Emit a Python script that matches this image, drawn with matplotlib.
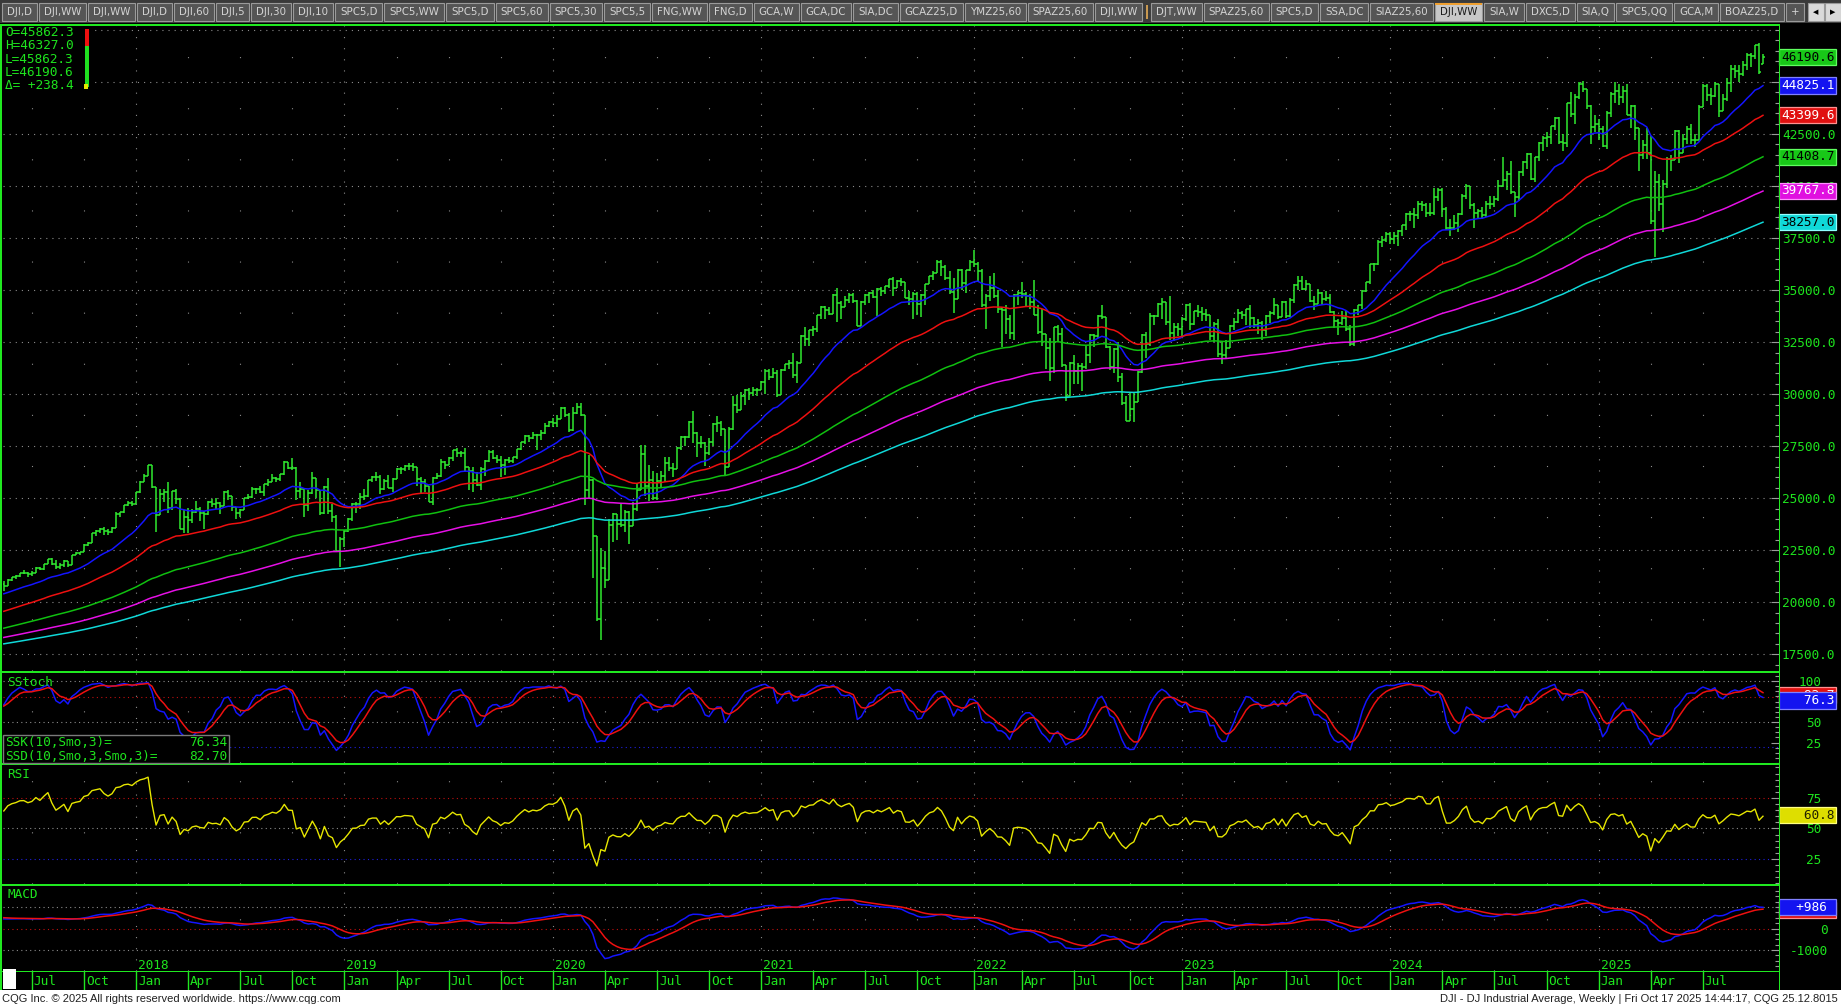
import numpy as np
import pandas as pd
import matplotlib
matplotlib.use("Agg")
import matplotlib.pyplot as plt
from matplotlib.patches import Rectangle
from matplotlib.ticker import FuncFormatter, MultipleLocator

# DJI weekly bars, week ending 19 May 2017 .. 17 Oct 2025
first_week = "2017-05-19"

# closes of the weeks before the first drawn bar, only used to warm up the averages
warmup_closes = [
    16452, 16065, 16302, 16323, 16412, 16027, 16409, 16361, 16513, 16583, 16491, 16606, 16717, 16924, 16776,
    16947, 16851, 17068, 16944, 17100, 16961, 16493, 16554, 16663, 17001, 17098, 17138, 16988, 17280, 17114,
    17009, 16544, 16380, 16805, 17391, 17573, 17635, 17810, 17828, 17958, 17280, 17805, 18053,
    17833, 17737, 17512, 17673, 17165, 17825, 18019, 18140, 18133, 17857, 17749, 18128, 17713, 17763, 18058,
    17826, 18080, 18024, 18191, 18272, 18232, 18011, 17849, 17899, 18015, 17947, 17730, 17760, 18086, 17568,
    17690, 17373, 17477, 16460, 16643, 16102, 16433, 16385, 16315, 16472, 17084, 17216, 17647, 17664, 17910,
    17245, 17824, 17798, 17848, 17265, 17128, 17553, 17425,
    16346, 15988, 16094, 16466, 16205, 15974, 16392, 16640, 17006, 17213, 17602, 17516, 17793, 17577, 17897,
    18004, 17774, 17740, 17535, 17501, 17873, 17807, 17865, 17675, 17400, 17949, 18147, 18516, 18571, 18432,
    18543, 18577, 18553, 18395, 18492, 18085, 18124, 18262, 18308, 18240, 18138, 18146, 18161, 17888, 18848,
    18868, 19152, 19171, 19757, 19843, 19934, 19763,
    19964, 19886, 19827, 20094, 20071, 20269, 20624, 20822, 21005, 20903, 20915, 20597, 20663, 20656, 20453,
    20548, 20941, 21007, 20897,
]

closes = [
    # 2017
    20804, 21080, 21206, 21272, 21384, 21395, 21350, 21414, 21638, 21580, 21830, 22092, 21858, 21675, 21814,
    21988, 21798, 22268, 22350, 22405, 22773, 22871, 23329, 23434, 23539, 23422, 23358, 23558, 24232, 24329,
    24651, 24754, 24719,
    # 2018
    25296, 25803, 26072, 26616, 25521, 24191, 25219, 25310, 24538, 25336, 24946, 23533, 24103, 23933, 24360,
    24463, 24311, 24263, 24831, 24715, 24753, 24635, 25317, 25090, 24581, 24271, 24456, 25019, 25058, 25451,
    25463, 25313, 25669, 25790, 25965, 25917, 26155, 26744, 26458, 26447, 25340, 25444, 24688, 25271, 25989,
    25413, 24286, 25538, 24389, 24101, 22445, 23062,
    # 2019
    23433, 23996, 24706, 24737, 25064, 25106, 25883, 26031, 26026, 25450, 25849, 25502, 25929, 26425, 26412,
    26559, 26543, 26505, 25942, 25764, 25586, 24815, 25984, 26090, 26719, 26600, 26922, 27332, 27154, 27192,
    26485, 26287, 25886, 25629, 26403, 26797, 27220, 26935, 26820, 26573, 26817, 26770, 26958, 27347, 27681,
    28005, 27876, 28051, 28015, 28135, 28455, 28645,
    # 2020
    28634, 28823, 29348, 28990, 28256, 29102, 29398, 28992, 25409, 25864, 23185, 19174, 21637, 21053, 23719,
    24242, 23775, 23724, 24331, 23685, 24465, 25383, 27111, 25606, 25871, 25016, 25827, 26075, 26672, 26470,
    26428, 27433, 27931, 27930, 28654, 28133, 27666, 27657, 27174, 27683, 28587, 28606, 28336, 26502, 28323,
    29480, 29263, 29910, 30218, 30046, 30179, 30200, 30606,
    # 2021
    31098, 30814, 30997, 29983, 31148, 31458, 31494, 30932, 31496, 32779, 32628, 33073, 33153, 33801, 34200,
    34043, 33875, 34778, 34382, 34208, 34529, 34756, 34480, 33290, 34433, 34786, 34870, 34687, 35061, 34935,
    35208, 35515, 35120, 35455, 35369, 34607, 34584, 34798, 34326, 34746, 35295, 35677, 35820, 36328, 36100,
    35602, 34899, 34580, 35971, 35365, 35950, 36338,
    # 2022
    36231, 35912, 34265, 34725, 35089, 34738, 34079, 34059, 33614, 32944, 34754, 34861, 34818, 34721, 34451,
    33811, 32977, 32899, 32197, 31262, 33213, 32900, 31393, 29889, 31501, 31097, 31338, 31289, 31899, 32845,
    32803, 33761, 33707, 32283, 31318, 32152, 30822, 29590, 28726, 29297, 29635, 31083, 32862, 32403, 33748,
    33746, 34347, 34430, 33477, 32921, 33204, 33147,
    # 2023
    33631, 34303, 33375, 33978, 33926, 33870, 33827, 32817, 33391, 31910, 31862, 32238, 33274, 33485, 33886,
    33809, 34098, 33674, 33301, 33427, 33093, 33763, 33877, 34299, 33727, 34408, 33734, 34509, 35228, 35459,
    35066, 35281, 34500, 34346, 34838, 34577, 34618, 33964, 33508, 33407, 33670, 33127, 32418, 34061, 34283,
    34947, 35390, 36246, 36248, 37306, 37385, 37690,
    # 2024
    37466, 37593, 37864, 38109, 38654, 38671, 38628, 39131, 39087, 38723, 38715, 39476, 39807, 38904, 37983,
    37986, 38240, 38676, 39513, 40004, 39070, 38686, 38799, 38589, 39150, 39119, 39376, 40001, 40288, 40589,
    39737, 39498, 40660, 41175, 41563, 40345, 41394, 42063, 42313, 42352, 42864, 43276, 42114, 42052, 43989,
    43445, 44297, 44911, 44643, 43828, 42840, 42992,
    # 2025
    42732, 41938, 43488, 44424, 44545, 44303, 44546, 43428, 43841, 42802, 41488, 41985, 41584, 38315, 40213,
    39142, 40114, 41317, 41249, 42655, 41603, 42270, 42763, 42198, 42207, 43819, 44829, 44371, 44342, 44902,
    43589, 44176, 44946, 45632, 45545, 45401, 45834, 46315, 46247, 46758, 45479, 46190.6,
]

highs = [
    # 2017
    21010, 21112, 21225, 21305, 21392, 21535, 21460, 21480, 21682, 21681, 21845, 22100, 22120, 22040, 21900,
    22010, 22000, 22275, 22420, 22420, 22790, 22900, 23330, 23480, 23560, 23600, 23500, 23600, 24330, 24350,
    24670, 24880, 24850,
    # 2018
    25300, 25810, 26150, 26620, 26620, 25520, 25430, 25440, 25800, 25340, 25450, 25000, 24440, 24540, 24500,
    24860, 24600, 24400, 24850, 24960, 25000, 24800, 25330, 25400, 25100, 24500, 24500, 25030, 25200, 25530,
    25470, 25600, 25700, 25900, 26170, 26000, 26180, 26770, 26750, 26950, 26500, 25800, 25400, 25400, 26270,
    25990, 25400, 25600, 25980, 24700, 24200, 23140,
    # 2019
    23480, 24060, 24750, 24800, 25250, 25450, 25890, 26050, 26240, 26100, 25900, 26110, 25950, 26430, 26480,
    26600, 26700, 26700, 26450, 26000, 25900, 25600, 26000, 26200, 26900, 26800, 26970, 27340, 27400, 27250,
    27400, 26500, 26500, 26250, 26480, 26850, 27300, 27300, 27100, 27050, 26900, 27000, 27000, 27350, 27700,
    28030, 28050, 28170, 28100, 28300, 28600, 28700,
    # 2020
    28870, 29000, 29370, 29370, 29100, 29380, 29570, 29570, 28990, 27100, 25900, 23200, 22600, 22450, 24000,
    24300, 24250, 24760, 24450, 24400, 24800, 25750, 27580, 27580, 26600, 26300, 26200, 26300, 27000, 27000,
    26700, 27450, 28000, 28000, 28700, 29200, 28200, 28000, 27700, 27900, 28600, 28950, 28700, 28300, 28400,
    29930, 29950, 30120, 30230, 30320, 30330, 30300, 30640,
    # 2021
    31200, 31200, 31280, 31150, 31200, 31460, 31650, 31960, 31600, 32830, 33230, 33100, 33260, 33810, 34260,
    34250, 34200, 34810, 35090, 34500, 34700, 34850, 34850, 34530, 34500, 34800, 34900, 35000, 35100, 35150,
    35220, 35530, 35630, 35500, 35600, 35400, 34950, 34900, 34900, 34800, 35300, 35700, 35900, 36430, 36440,
    36200, 35900, 35600, 36000, 36000, 35990, 36450,
    # 2022
    36950, 36350, 36000, 34800, 35700, 35800, 35000, 34200, 34300, 33800, 34800, 34950, 35400, 34900, 34800,
    35500, 34300, 34100, 32900, 32700, 33250, 33300, 33200, 31400, 31550, 31900, 31500, 31500, 32300, 32900,
    32900, 33800, 34280, 33700, 32300, 32200, 32500, 31000, 29900, 30100, 30050, 31100, 32900, 33000, 33900,
    33800, 34400, 34600, 34400, 34700, 33400, 33400,
    # 2023
    33700, 34350, 34400, 34000, 34300, 34200, 34100, 33800, 33450, 33600, 32500, 32600, 33300, 33650, 34100,
    34000, 34100, 34300, 33700, 33600, 33500, 33800, 34000, 34600, 34300, 34500, 34500, 34600, 35300, 35680,
    35680, 35500, 35300, 34700, 35070, 34900, 34980, 34800, 34000, 33600, 34000, 34000, 33300, 34100, 34300,
    35000, 35400, 36250, 36300, 37400, 37600, 37800,
    # 2024
    37800, 37800, 37900, 38150, 38700, 38800, 38930, 39280, 39300, 39200, 39200, 39900, 39900, 39900, 39000,
    38400, 38600, 38700, 39600, 40080, 40000, 39200, 38900, 39000, 39300, 39500, 39500, 40300, 41380, 40700,
    41200, 39700, 40700, 41200, 41600, 41600, 41400, 42100, 42400, 42600, 42900, 43300, 43300, 42500, 44000,
    44500, 44400, 45000, 45070, 44600, 43900, 43400,
    # 2025
    43200, 42900, 43600, 44500, 45000, 44900, 44800, 44900, 43900, 43900, 42800, 42200, 42800, 42400, 40700,
    40600, 40300, 41400, 41500, 42700, 42700, 42500, 42900, 43000, 42500, 43900, 44900, 44900, 44700, 45000,
    44900, 44400, 45200, 45800, 45800, 45800, 46000, 46400, 46400, 46800, 46890, 46327.0,
]

lows = [
    # 2017
    20550, 20790, 21005, 21110, 21205, 21335, 21200, 21280, 21400, 21530, 21560, 21820, 21800, 21600, 21600,
    21700, 21710, 21800, 22250, 22250, 22400, 22720, 22850, 23170, 23340, 23250, 23240, 23350, 23550, 24110,
    24300, 24650, 24640,
    # 2018
    24760, 25250, 25800, 26080, 25500, 23360, 24200, 24800, 24300, 24450, 24700, 23500, 23340, 23340, 23800,
    24300, 23900, 23530, 24200, 24600, 24500, 24250, 24630, 24900, 24400, 24000, 24080, 24450, 24950, 25000,
    25200, 25250, 25100, 25600, 25780, 25800, 25850, 26100, 26400, 26350, 24900, 25000, 24120, 24400, 25200,
    25000, 24200, 24250, 24240, 23880, 22400, 21710,
    # 2019
    22640, 23400, 23900, 24300, 24500, 24900, 25040, 25800, 25830, 25200, 25400, 25500, 25300, 25950, 26150,
    26300, 26350, 26300, 25600, 25220, 25300, 24800, 24680, 25900, 26000, 26400, 26600, 26800, 27000, 27000,
    26250, 25400, 25300, 25600, 25400, 26050, 26750, 26900, 26700, 26000, 26100, 26700, 26700, 26900, 27300,
    27600, 27700, 27850, 27320, 27800, 28100, 28400,
    # 2020
    28420, 28400, 28800, 28900, 28170, 28250, 29050, 28930, 24680, 25000, 21150, 19100, 18210, 20700, 21050,
    22900, 23000, 23600, 23360, 22790, 23700, 24400, 25400, 25100, 24850, 24900, 24900, 25500, 25800, 26300,
    26000, 26400, 27300, 27500, 27900, 27660, 27000, 27400, 26540, 27100, 27500, 28200, 28000, 26140, 26500,
    28300, 29100, 29250, 29500, 29700, 29900, 29900, 30200,
    # 2021
    30000, 30700, 30800, 29860, 29990, 31100, 31200, 30800, 30550, 31550, 32300, 32300, 32800, 33000, 33600,
    33600, 33800, 33900, 33470, 33600, 34200, 34400, 34400, 33270, 33300, 34300, 34400, 34600, 33740, 34700,
    34800, 35100, 34700, 35100, 35200, 34600, 34300, 33600, 33800, 33700, 34300, 35300, 35500, 35800, 35700,
    35500, 34800, 33900, 34600, 35000, 34850, 35900,
    # 2022
    36100, 35400, 34200, 33150, 34500, 34600, 33900, 32270, 32900, 32630, 32600, 34300, 34600, 34200, 34100,
    33800, 32900, 32300, 31230, 30640, 31000, 32500, 31300, 29650, 29900, 30500, 30500, 30140, 31200, 31500,
    32250, 32700, 33600, 32200, 31150, 31000, 30600, 29500, 28700, 28700, 28660, 29600, 31000, 31750, 32300,
    33300, 33700, 33600, 33300, 32600, 32570, 32800,
    # 2023
    32800, 33500, 33100, 33300, 33700, 33500, 33500, 32600, 32500, 31800, 31430, 31750, 32250, 33100, 33400,
    33600, 33300, 33200, 33200, 32900, 32600, 32800, 33400, 33800, 33600, 33700, 33650, 33700, 34400, 35000,
    35000, 35000, 34450, 34030, 34400, 34300, 34500, 33900, 33200, 32850, 33300, 33050, 32300, 32330, 33800,
    34100, 34900, 35300, 35900, 36200, 37050, 37300,
    # 2024
    37200, 37200, 37100, 37600, 37900, 38300, 38000, 38400, 38800, 38500, 38550, 38600, 39300, 38500, 37900,
    37600, 37900, 37800, 38600, 39400, 38900, 38000, 38400, 38400, 38500, 38900, 39000, 39300, 39950, 39800,
    39600, 38500, 39300, 40500, 40800, 40300, 40200, 41200, 41700, 41900, 42000, 42700, 42000, 41700, 41900,
    43300, 43000, 44200, 44500, 43700, 42000, 42600,
    # 2025
    42200, 41900, 41800, 43300, 44000, 43900, 44000, 43400, 42800, 42200, 40700, 41300, 41300, 38200, 36610,
    38800, 37800, 39900, 40700, 41800, 41100, 41700, 42000, 42000, 41900, 42200, 43800, 44100, 43900, 44300,
    43300, 43700, 44100, 44500, 45200, 45000, 45300, 45600, 45700, 46100, 45400, 45862.3,
]

last_open = 45862.3          # this week opened above last Friday's close

# exponential averages; their last values as printed in the price scale boxes
ma_colors = ["#1414ff", "#ee1010", "#10c010", "#e610e6", "#10d8d8"]
ma_last = [44825.1, 43399.6, 41408.7, 39767.8, 38257.0]

legend_lines = ["O=45862.3", "H=46327.0", "L=45862.3", "L=46190.6", "\u0394= +238.4"]
ssk_last, ssd_last = 76.34, 82.70
rsi_last = 60.8
macd_last, signal_last = 986, 850

tabs = ["DJI,D", "DJI,WW", "DJI,WW", "DJI,D", "DJI,60", "DJI,5", "DJI,30", "DJI,10", "SPC5,D", "SPC5,WW",
        "SPC5,D", "SPC5,60", "SPC5,30", "SPC5,5", "FNG,WW", "FNG,D", "GCA,W", "GCA,DC", "SIA,DC", "GCAZ25,D",
        "YMZ25,60", "SPAZ25,60", "DJI,WW", "|", "DJT,WW", "SPAZ25,60", "SPC5,D", "SSA,DC", "SIAZ25,60", "DJI,WW",
        "SIA,W", "DXC5,D", "SIA,Q", "SPC5,QQ", "GCA,M", "BOAZ25,D", "+"]
active_tab = 29

footer_left = "CQG Inc. \u00a9 2025 All rights reserved worldwide. https://www.cqg.com"
footer_right = "DJI - DJ Industrial Average, Weekly | Fri Oct 17 2025 14:44:17, CQG 25.12.8015"

# ---------------------------------------------------------------------------
W, H = 1841, 1008
MONO = "DejaVu Sans Mono"
FS = 9.2
TXT = "#1ee41e"
BAR = "#30ea30"
LINE_GREEN = "#20e820"
GRID = "#8c8c8c"
TICK = "#9a9a9a"
BLUE, RED, YELLOW = "#1414ff", "#ee1010", "#e6e600"

plt.rcParams["font.family"] = MONO

n = min(len(closes), len(highs), len(lows))
cl = np.array(closes[:n], float)
op = np.r_[warmup_closes[-1], cl[:-1]]
op[-1] = last_open
hi = np.maximum(np.array(highs[:n], float), np.maximum(op, cl))
lo = np.minimum(np.array(lows[:n], float), np.minimum(op, cl))
x = np.arange(n)
dates = pd.date_range(first_week, periods=n, freq="W-FRI")

nw = len(warmup_closes)
c_all = pd.Series(list(warmup_closes) + list(cl))
h_all = pd.Series(list(warmup_closes) + list(hi))
l_all = pd.Series(list(warmup_closes) + list(lo))


def ema_matching(target):
    # pick the EMA length whose value on the last bar is the one printed on the scale
    spans = range(3, 400)
    ends = [c_all.ewm(span=s, adjust=False).mean().iloc[-1] for s in spans]
    best = spans[int(np.argmin(np.abs(np.array(ends) - target)))]
    return c_all.ewm(span=best, adjust=False).mean().values[nw:]


mas = [ema_matching(v) for v in ma_last]

# slow stochastic with "smoothed" (Wilder) averaging
hh = h_all.rolling(10).max()
ll = l_all.rolling(10).min()
fast_k = 100 * (c_all - ll) / (hh - ll)
ssk = fast_k.ewm(alpha=1 / 3, adjust=False).mean()
ssd = ssk.ewm(alpha=1 / 3, adjust=False).mean()

delta = c_all.diff()
up = delta.clip(lower=0).ewm(alpha=1 / 14, adjust=False).mean()
dn = (-delta.clip(upper=0)).ewm(alpha=1 / 14, adjust=False).mean()
rsi = 100 - 100 / (1 + up / dn)

macd = c_all.ewm(span=12, adjust=False).mean() - c_all.ewm(span=26, adjust=False).mean()
signal = macd.ewm(span=9, adjust=False).mean()

ssk, ssd, rsi, macd, signal = [s.values[nw:] for s in (ssk, ssd, rsi, macd, signal)]

months = dates.month.values
qticks = [i for i in range(1, n) if months[i] != months[i - 1] and months[i] in (1, 4, 7, 10) and i < n - 8]
mnames = {1: "Jan", 4: "Apr", 7: "Jul", 10: "Oct"}


def px_axes(fig, x0, y0, x1, y1):
    ax = fig.add_axes([x0 / W, 1 - y1 / H, (x1 - x0) / W, (y1 - y0) / H])
    ax.set_facecolor("black")
    for s in ax.spines.values():
        s.set_visible(False)
    ax.set_xlim(-0.2, n + 3)
    ax.set_xticks([])
    return ax


def fig_rect(fig, x0, y0, x1, y1, fc, ec="none", lw=0.0, z=1):
    fig.add_artist(Rectangle((x0 / W, 1 - y1 / H), (x1 - x0) / W, (y1 - y0) / H, transform=fig.transFigure,
                             facecolor=fc, edgecolor=ec, linewidth=lw, zorder=z))


def fig_text(fig, xp, yp, s, **kw):
    kw.setdefault("va", "center")
    return fig.text(xp / W, 1 - yp / H, s, **kw)


def right_axis(ax, ticks, fmt, pad_px, minor, ha):
    ax.yaxis.tick_right()
    ax.set_yticks(ticks)
    ax.yaxis.set_minor_locator(MultipleLocator(minor))
    ax.yaxis.set_major_formatter(FuncFormatter(fmt))
    ax.tick_params(axis="y", which="major", direction="in", length=6, width=0.8, color=TICK,
                   labelcolor=TXT, labelsize=FS, pad=pad_px * 0.72)
    ax.tick_params(axis="y", which="minor", direction="in", length=3, width=0.8, color=TICK)
    for t in ax.get_yticklabels():
        t.set_horizontalalignment(ha)


def value_box(ax, y, text, fc, tc, ec):
    ax.text((1781 - 3) / 1776, y, text, transform=ax.get_yaxis_transform(), ha="left", va="center",
            color=tc, fontsize=FS, clip_on=False, zorder=10,
            bbox=dict(boxstyle="square,pad=0.13", fc=fc, ec=ec, lw=0.9))


def quarter_grid(ax):
    for i in qticks:
        if months[i] == 1:
            ax.axvline(i, color=GRID, lw=0.8, ls=(0, (1, 9)), zorder=0)
        else:
            ax.axvline(i, color=GRID, lw=0.8, ls=(0, (1, 45)), zorder=0)


fig = plt.figure(figsize=(W / 100, H / 100), dpi=100, facecolor="black")

# ---- price panel ----
main = px_axes(fig, 3, 26, 1779, 670.5)
main.set_ylim(16722, 47691)
for lev in np.arange(17500, 47501, 2500):
    main.axhline(lev, color=GRID, lw=0.8, ls=(0, (1, 4.5)), zorder=0)
quarter_grid(main)
main.vlines(x, lo, hi, color=BAR, lw=1.1, zorder=2)
main.hlines(op, x - 0.5, x, color=BAR, lw=1.1, zorder=2)
main.hlines(cl, x, x + 0.5, color=BAR, lw=1.1, zorder=2)
for ma, col in zip(mas, ma_colors):
    main.plot(x, ma, color=col, lw=1.1, zorder=3)
right_axis(main, np.arange(17500, 45001, 2500), lambda v, p: f"{v:.1f}", 3, 500, "left")

value_box(main, cl[-1], f"{cl[-1]:.1f}", "#18c818", "black", "#60ff60")
box_style = [("#1414f0", "white", "#8080ff"), ("#e01010", "white", "#ff9090"), ("#18c818", "black", "#60ff60"),
             ("#e010e0", "white", "#ff90ff"), ("#10d8d8", "black", "#90ffff")]
for v, (fc, tc, ec) in zip(ma_last, box_style):
    value_box(main, v, f"{v:.1f}", fc, tc, ec)

# ---- slow stochastic ----
stoch = px_axes(fig, 3, 672.5, 1779, 763)
stoch.set_ylim(0, 110.4)
for lev, col in [(100, GRID), (50, GRID), (80, "#c01010"), (20, "#2020e0")]:
    stoch.axhline(lev, color=col, lw=0.8, ls=(0, (1, 3)), zorder=0)
quarter_grid(stoch)
stoch.plot(x, ssk, color=BLUE, lw=1.1)
stoch.plot(x, ssd, color=RED, lw=1.1)
right_axis(stoch, [25, 50, 100], lambda v, p: f"{v:.0f}", 42, 6.25, "right")
value_box(stoch, ssd_last, f"{ssd_last:7.1f}", "#e01010", "white", "#ff9090")
value_box(stoch, ssk_last, f"{ssk_last:7.1f}", "#1414f0", "white", "#8080ff")

# ---- RSI ----
rsi_ax = px_axes(fig, 3, 765, 1779, 884)
rsi_ax.set_ylim(4.5, 102)
for lev, col in [(50, GRID), (75, "#c01010"), (25, "#2020e0")]:
    rsi_ax.axhline(lev, color=col, lw=0.8, ls=(0, (1, 3)), zorder=0)
quarter_grid(rsi_ax)
rsi_ax.plot(x, rsi, color=YELLOW, lw=1.0)
right_axis(rsi_ax, [25, 50, 75], lambda v, p: f"{v:.0f}", 42, 5, "right")
value_box(rsi_ax, rsi_last, f"{rsi_last:7.1f}", "#dede00", "#202000", "#ffff80")

# ---- MACD ----
macd_ax = px_axes(fig, 3, 886, 1779, 971)
macd_ax.set_ylim(-1977, 1977)
for lev, col in [(1000, GRID), (-1000, GRID), (0, "#c01010")]:
    macd_ax.axhline(lev, color=col, lw=0.8, ls=(0, (1, 3)), zorder=0)
quarter_grid(macd_ax)
macd_ax.plot(x, macd, color=BLUE, lw=1.1)
macd_ax.plot(x, signal, color=RED, lw=1.1)
right_axis(macd_ax, [-1000, 0], lambda v, p: f"{v:.0f}", 49, 250, "right")
value_box(macd_ax, signal_last, "       ", "#e01010", "white", "#ff9090")
value_box(macd_ax, macd_last, f"{'+' + str(macd_last):>6} ", "#1414f0", "white", "#8080ff")
for i in qticks:
    if months[i] == 1:
        macd_ax.text(i + 0.5, 0.024, str(dates.year[i]), transform=macd_ax.get_xaxis_transform(),
                     color=TXT, fontsize=FS, ha="left", va="baseline")

# ---- time axis ----
tax = px_axes(fig, 3, 971, 1779, 990)
tax.set_ylim(0, 1)
tax.set_yticks([])
for i in qticks:
    tax.axvline(i, color=LINE_GREEN, lw=1.0)
    tax.text(i + 0.5, 0.45, mnames[months[i]], color=TXT, fontsize=FS, ha="left", va="center")

# ---- frame lines ----
fig_rect(fig, 0, 22, 1841, 26, "black")
fig_rect(fig, 0, 23.5, 1780, 25.5, LINE_GREEN)
fig_rect(fig, 0, 24, 2, 990, LINE_GREEN)
fig_rect(fig, 1778.6, 24, 1779.8, 990, LINE_GREEN)
for y0, y1 in [(670.5, 672.5), (763, 765), (884, 886), (970.5, 971.5)]:
    fig_rect(fig, 0, y0, 1780, y1, LINE_GREEN)
fig_rect(fig, 3, 969, 16, 989, "white")

# ---- last-bar legend ----
fig_rect(fig, 2, 26, 91, 91, "black")
for k, s in enumerate(legend_lines):
    fig_text(fig, 5, 32.5 + 13.3 * k, s, color=TXT, fontsize=FS, zorder=4)
fig_rect(fig, 85, 29, 89, 46, "#ee1010")
fig_rect(fig, 85, 46, 89, 87, "#20e020")
fig_rect(fig, 84, 84, 88, 88.5, "#e6e600")

# ---- panel titles and stochastic readout ----
fig_text(fig, 7, 682, "SStoch", color=TXT, fontsize=FS)
fig_text(fig, 7, 774, "RSI", color=TXT, fontsize=FS)
fig_text(fig, 7, 895, "MACD", color=TXT, fontsize=FS)
fig_rect(fig, 3, 735, 229, 763, "black", ec="#7a7a7a", lw=1.0, z=2)
fig_text(fig, 5, 742, "SSK(10,Smo,3)=", color=TXT, fontsize=FS, zorder=4)
fig_text(fig, 227, 742, f"{ssk_last:.2f}", color=TXT, fontsize=FS, ha="right", zorder=4)
fig_text(fig, 5, 756, "SSD(10,Smo,3,Smo,3)=", color=TXT, fontsize=FS, zorder=4)
fig_text(fig, 227, 756, f"{ssd_last:.2f}", color=TXT, fontsize=FS, ha="right", zorder=4)

# ---- tab bar ----
fig_rect(fig, 0, 0, 1841, 22.5, "#3a3a3a")
renderer = fig.canvas.get_renderer()
tab_texts = []
for k, lab in enumerate(tabs):
    if lab == "|":
        tab_texts.append(None)
        continue
    t = fig_text(fig, 0, 12, lab, fontsize=7.4, family="DejaVu Sans", ha="center",
                 color="#1a1a1a" if k == active_tab else "#d4d4d4", zorder=4)
    tab_texts.append(t)
widths = [t.get_window_extent(renderer).width if t is not None else 0 for t in tab_texts]
n_tabs = sum(t is not None for t in tab_texts)
tab_pad = (1806 - 2 - 9 - 2 * (n_tabs - 1) - sum(widths)) / n_tabs
xc = 2.0
for k, t in enumerate(tab_texts):
    if t is None:
        fig_rect(fig, xc + 2, 5, xc + 4, 19, "#c89850")
        xc += 7
        continue
    w = widths[k] + tab_pad
    active = k == active_tab
    fig_rect(fig, xc, 3, xc + w, 21, "#c8c8c8" if active else "#555555", ec="#9a9a9a", lw=0.8, z=2)
    if active:
        fig_rect(fig, xc, 2.5, xc + w, 4.5, "#f0a030", z=3)
    t.set_position(((xc + w / 2) / W, 1 - 12 / H))
    xc += w + 2
fig_rect(fig, 1808, 3, 1824, 21, "#dadada", ec="#9a9a9a", lw=0.8, z=2)
fig_rect(fig, 1825, 3, 1841, 21, "#dadada", ec="#9a9a9a", lw=0.8, z=2)
fig_text(fig, 1816, 12, "\u25c0", fontsize=5, family="DejaVu Sans", ha="center", color="black", zorder=4)
fig_text(fig, 1833, 12, "\u25b6", fontsize=5, family="DejaVu Sans", ha="center", color="black", zorder=4)

# ---- footer ----
fig_rect(fig, 0, 990, 1841, 1008, "white")
fig_text(fig, 2, 999.5, footer_left, fontsize=8, family="Liberation Sans", color="#202020", zorder=4)
fig_text(fig, 1838, 999.5, footer_right, fontsize=8, family="Liberation Sans", color="#202020", ha="right",
         zorder=4)

fig.savefig("out.png", dpi=100, facecolor="black")
